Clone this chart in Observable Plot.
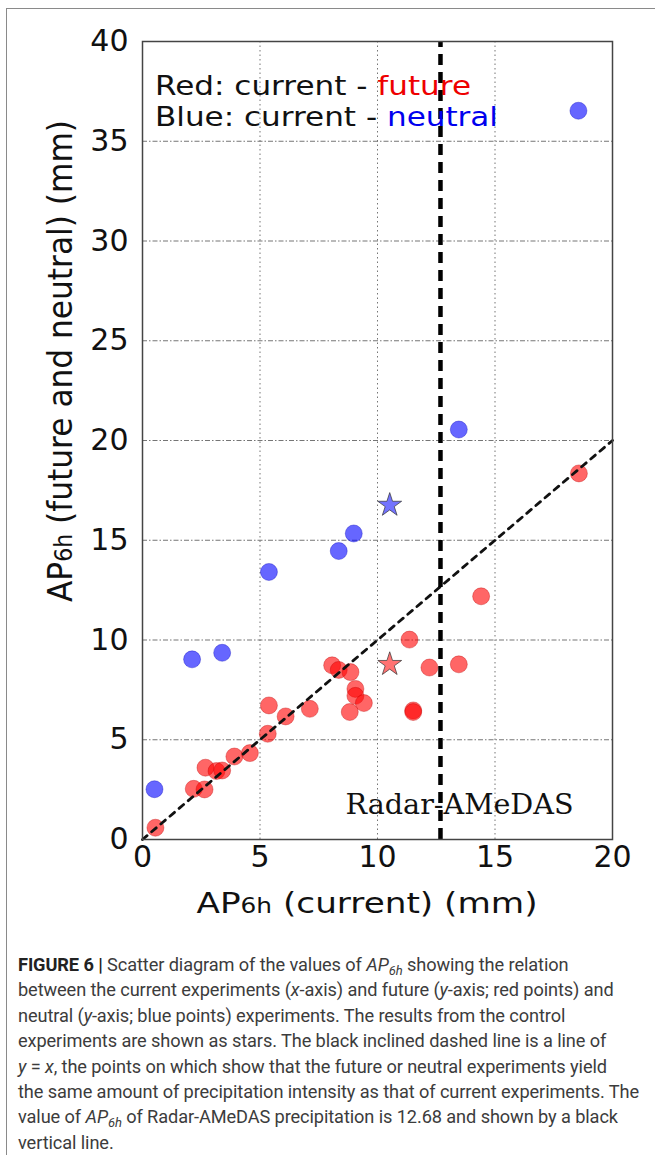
<!DOCTYPE html>
<html>
<head>
<meta charset="utf-8">
<script src="https://cdn.jsdelivr.net/npm/d3@7"></script>
<script src="https://cdn.jsdelivr.net/npm/@observablehq/plot@0.6"></script>
<style>
  html, body { margin: 0; padding: 0; background: #fff; }
  #page { position: relative; width: 655px; height: 1155px; overflow: hidden; }
  #border { position: absolute; left: 6px; top: 8px; width: 700px; height: 1300px; border-left: 1.5px solid #8a8a8a; border-top: 1.5px solid #8a8a8a; }
  #chart { position: absolute; left: 0; top: 0; }
  #caption { position: absolute; left: 18px; top: 952px; width: 640px; font-family: Roboto, "Liberation Sans", sans-serif; font-size: 18.2px; line-height: 25.4px; color: #3c3c3c; letter-spacing: -0.1px; white-space: nowrap; }
  #caption b { color: #222; }
  #caption sub { font-size: 13px; line-height: 0; vertical-align: baseline; position: relative; top: 4px; }
</style>
</head>
<body>
<div id="page">
  <div id="border"></div>
  <div id="chart"></div>
  <div id="caption">
    <b>FIGURE 6 |</b> Scatter diagram of the values of <i>AP</i><sub><i>6h</i></sub> showing the relation<br>
    between the current experiments (<i>x</i>-axis) and future (<i>y</i>-axis; red points) and<br>
    neutral (<i>y</i>-axis; blue points) experiments. The results from the control<br>
    experiments are shown as stars. The black inclined dashed line is a line of<br>
    <i>y</i> = <i>x</i>, the points on which show that the future or neutral experiments yield<br>
    the same amount of precipitation intensity as that of current experiments. The<br>
    value of <i>AP</i><sub><i>6h</i></sub> of Radar-AMeDAS precipitation is 12.68 and shown by a black<br>
    vertical line.
  </div>
</div>
<script>
// ---- data ----
const redX = [0.55, 2.18, 2.64, 2.68, 3.15, 3.39, 3.91, 4.57, 5.33, 5.38, 6.09, 7.12, 8.07, 8.35, 8.85, 9.06, 9.06, 9.42, 8.82, 11.36, 12.21, 13.46, 11.52, 11.52, 14.41, 18.57];
const redY = [0.59, 2.54, 2.51, 3.60, 3.43, 3.46, 4.16, 4.33, 5.30, 6.72, 6.17, 6.55, 8.73, 8.50, 8.39, 7.55, 7.20, 6.84, 6.39, 10.02, 8.62, 8.78, 6.47, 6.39, 12.19, 18.35];
const blueX = [0.51, 2.11, 3.39, 5.38, 8.35, 8.99, 13.46, 18.55];
const blueY = [2.52, 9.03, 9.36, 13.41, 14.46, 15.34, 20.55, 36.53];
const starX = [10.52, 10.52];
const starY = [8.78, 16.76];
const starSeries = ["future", "neutral"];
const radarAMeDAS = 12.68;
const radarLabel = ["Radar-AMeDAS"];
const xTicks = [0, 5, 10, 15, 20];
const yTicks = [0, 5, 10, 15, 20, 25, 30, 35, 40];
const diagonal = [0, 20];

const red = redX.map((x, i) => ({x, y: redY[i]}));
const blue = blueX.map((x, i) => ({x, y: blueY[i]}));
const stars = starX.map((x, i) => ({x, y: starY[i], s: starSeries[i]}));
const diag = diagonal.map(v => ({x: v, y: v}));

const plot = Plot.plot({
  width: 655,
  height: 935,
  marginLeft: 142,
  marginRight: 43,
  marginTop: 41,
  marginBottom: 96,
  style: {fontFamily: "DejaVu Sans", fontSize: "30px", background: "transparent", color: "#111"},
  x: {domain: [0, 20], ticks: xTicks},
  y: {domain: [0, 40], ticks: yTicks},
  marks: [
    Plot.gridX(xTicks.slice(1, -1), {stroke: "#666", strokeOpacity: 0.9, strokeWidth: 1, strokeDasharray: "1.5,3"}),
    Plot.gridY(yTicks.slice(1, -1), {stroke: "#666", strokeOpacity: 0.9, strokeWidth: 1, strokeDasharray: "5,2,1.5,2"}),
    Plot.dot(red, {x: "x", y: "y", r: 8.5, fill: "red", fillOpacity: 0.6, stroke: "#b00", strokeOpacity: 0.35, strokeWidth: 1}),
    Plot.dot(blue, {x: "x", y: "y", r: 8.5, fill: "blue", fillOpacity: 0.6, stroke: "#00b", strokeOpacity: 0.35, strokeWidth: 1}),
    Plot.dot(stars, {x: "x", y: "y", symbol: "star", r: 7.5, fill: d => d.s === "future" ? "red" : "blue", fillOpacity: 0.55, stroke: "#333", strokeOpacity: 0.7, strokeWidth: 1}),
    Plot.line(diag, {x: "x", y: "y", stroke: "#111", strokeWidth: 2.8, strokeDasharray: "6,6"}),
    Plot.ruleX([radarAMeDAS], {y1: 0, y2: 40, stroke: "#000", strokeWidth: 4.5, strokeDasharray: "11,7"}),
    Plot.text(radarLabel, {x: 8.64, y: 1.3, text: d => d, textAnchor: "start", lineAnchor: "bottom", fontFamily: "DejaVu Serif", fontSize: 27, fill: "#111", className: "radar-label"}),
    Plot.axisX(xTicks, {tickSize: 0, tickPadding: 6, label: null, fontSize: 30}),
    Plot.axisY(yTicks, {tickSize: 0, tickPadding: 14, label: null, fontSize: 30}),
    Plot.frame({stroke: "#444", strokeWidth: 1.5})
  ]
});

document.getElementById("chart").appendChild(plot);
const svg = d3.select(plot);

// squeeze the Radar-AMeDAS label to the reference width
svg.selectAll(".radar-label text").attr("textLength", 228).attr("lengthAdjust", "spacingAndGlyphs");

// legend
const legend = svg.append("g").attr("font-family", "DejaVu Sans").attr("font-size", 26).attr("fill", "#111").attr("text-anchor", "start");
const l1 = legend.append("text").attr("x", 155).attr("y", 95).attr("textLength", 316).attr("lengthAdjust", "spacingAndGlyphs");
l1.append("tspan").text("Red: current - ");
l1.append("tspan").attr("fill", "#ee0000").text("future");
const l2 = legend.append("text").attr("x", 155).attr("y", 126).attr("textLength", 343).attr("lengthAdjust", "spacingAndGlyphs");
l2.append("tspan").text("Blue: current - ");
l2.append("tspan").attr("fill", "#0000ee").text("neutral");

// x axis label
const xl = svg.append("text").attr("x", 367).attr("y", 913).attr("text-anchor", "middle")
  .attr("font-family", "DejaVu Sans").attr("font-size", 29).attr("fill", "#111")
  .attr("textLength", 341).attr("lengthAdjust", "spacingAndGlyphs");
xl.append("tspan").text("AP");
xl.append("tspan").attr("font-size", 21).text("6h");
xl.append("tspan").text(" (current) (mm)");

// y axis label
const yl = svg.append("text").attr("transform", "translate(72,361) rotate(-90)").attr("text-anchor", "middle")
  .attr("font-family", "DejaVu Sans").attr("font-size", 34).attr("fill", "#111")
  .attr("textLength", 482).attr("lengthAdjust", "spacingAndGlyphs");
yl.append("tspan").text("AP");
yl.append("tspan").attr("font-size", 24).text("6h");
yl.append("tspan").text(" (future and neutral) (mm)");
</script>
</body>
</html>
